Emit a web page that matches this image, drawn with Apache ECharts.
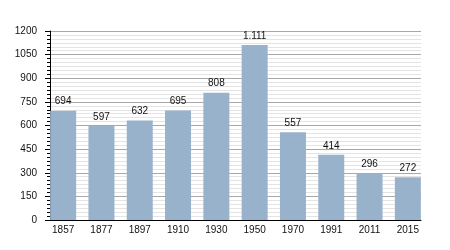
<!DOCTYPE html>
<html><head><meta charset="utf-8">
<script src="https://cdn.jsdelivr.net/npm/echarts@6/dist/echarts.min.js"></script>
<style>html,body{margin:0;padding:0;background:#fff}#c{width:450px;height:250px}</style>
</head><body><div id="c"></div>
<script>
var categories = ['1857','1877','1897','1910','1930','1950','1970','1991','2011','2015'];
var values = [694, 597, 632, 695, 808, 1111, 557, 414, 296, 272];
var yTicks = [0,150,300,450,600,750,900,1050,1200];

var font = 'Liberation Sans, Arial, sans-serif';
function fmt(v){ return String(v).replace(/\B(?=(\d{3})+(?!\d))/g, '.'); }

var chart = echarts.init(document.getElementById('c'), null, {renderer:'canvas'});
chart.setOption({
  animation:false,
  grid:[
    {left:50, right:29, top:31, bottom:30, containLabel:false},
    {left:44, right:23, top:31, bottom:30, containLabel:false}
  ],
  xAxis:[
    {gridIndex:0, type:'category', data:categories, axisLine:{lineStyle:{color:'#000',width:1}},
     axisTick:{show:false}, axisLabel:{show:false}, splitLine:{show:false}},
    {gridIndex:1, type:'category', data:categories, axisLine:{show:false}, axisTick:{show:false},
     axisLabel:{color:'#111', fontSize:10, fontFamily:font, margin:5}}
  ],
  yAxis:[
    {gridIndex:0, type:'value', min:yTicks[0], max:yTicks[yTicks.length-1], interval:150,
     axisLine:{show:true, lineStyle:{color:'#000',width:1}},
     axisTick:{show:true, length:5, lineStyle:{color:'#000'}},
     minorTick:{show:true, splitNumber:6, length:3, lineStyle:{color:'#000'}},
     axisLabel:{color:'#111', fontSize:10, fontFamily:font, margin:13,
       formatter:function(v){return String(v);}},
     splitLine:{show:true, lineStyle:{color:'#a8a8a8', width:1}},
     minorSplitLine:{show:true, lineStyle:{color:'#e4e4e4', width:1}}
    },
    {gridIndex:1, type:'value', min:yTicks[0], max:yTicks[yTicks.length-1], interval:150, show:false}
  ],
  series:[{
    type:'bar', xAxisIndex:1, yAxisIndex:1, data:values, barWidth:26,
    itemStyle:{color:'#98b2cc'},
    label:{show:true, position:'top', distance:4, color:'#111', fontSize:10, fontFamily:font,
      formatter:function(p){return fmt(p.value);}}
  }]
});
</script></body></html>
